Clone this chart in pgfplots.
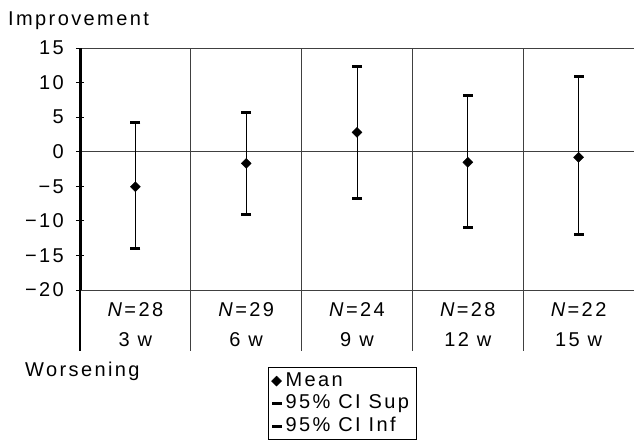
\documentclass[border=0pt]{standalone}
\usepackage{fontspec}
\setmainfont[LetterSpace=12]{Liberation Sans}
\usepackage{pgfplots}
\usepackage{pgfplotstable}
\pgfplotsset{compat=1.18}
\pgfplotstableread{
x mean up lo
0 -5.06 4.19 -13.97
1 -1.68 5.74 -9.06
2 2.80 12.35 -6.80
3 -1.53 8.20 -10.99
4 -0.81 10.95 -11.95
}\data
\begin{document}
\fontsize{20}{24}\selectfont
\begin{tikzpicture}
\useasboundingbox (0pt,0pt) rectangle (634pt,-439pt);
\node[anchor=base west, inner sep=0pt] at (8pt,-25pt) {Improvement};
\node[anchor=base west, inner sep=0pt] at (25pt,-376pt) {Worsening};
\begin{axis}[
  scale only axis, width=554pt, height=242pt,
  at={(80pt,-290pt)}, anchor=south west,
  xmin=-0.5, xmax=4.5, ymin=-20, ymax=15,
  clip=false,
  axis line style={draw=none},
  xtick=\empty,
  ytick={-20,-15,-10,-5,0,5,10,15},
  yticklabels={−20,−15,−10,−5,0,5,10,15},
  ytick pos=left,
  tick align=center,
  major tick length=8pt,
  ytick style={black, line width=1pt},
  yticklabel style={anchor=east, inner sep=0pt, xshift=-12pt},
  /pgf/number format/assume math mode=true,
  legend style={at={(axis description cs:0.3394,-0.3194)}, anchor=north west,
    draw=black, line width=1pt, inner xsep=3pt, inner ysep=4pt, row sep=4pt,
    nodes={inner ysep=0pt, inner xsep=4pt, text height=14.5pt, text depth=4pt}},
  legend cell align=left,
  legend image code/.code={\draw[mark repeat=2,mark phase=2,#1] plot coordinates {(0pt,0pt) (6pt,0pt) (12pt,0pt)};},
]
% grid / frame lines
\draw[black!75, line width=1pt] (axis cs:-0.5,15) -- (axis cs:4.5,15);
\draw[black!75, line width=1pt] (axis cs:-0.5,0) -- (axis cs:4.5,0);
\draw[black!75, line width=1pt] (axis cs:-0.5,-20) -- (axis cs:4.5,-20);
\draw[black!75, line width=1pt] (axis cs:0.5,15) -- (axis cs:0.5,-20) -- ++(0pt,-61pt);
\draw[black!75, line width=1pt] (axis cs:1.5,15) -- (axis cs:1.5,-20) -- ++(0pt,-61pt);
\draw[black!75, line width=1pt] (axis cs:2.5,15) -- (axis cs:2.5,-20) -- ++(0pt,-61pt);
\draw[black!75, line width=1pt] (axis cs:3.5,15) -- (axis cs:3.5,-20) -- ++(0pt,-61pt);
\draw[black, line width=1.5pt] (axis cs:-0.5,-20) -- ++(0pt,-61pt);
\draw[black, line width=3pt] (axis cs:-0.5,15) -- (axis cs:-0.5,-20);
% table text
\node[yshift=-19.5pt] at (axis cs:0,-20) {\textit{N}=28};
\node[yshift=-19.5pt] at (axis cs:1,-20) {\textit{N}=29};
\node[yshift=-19.5pt] at (axis cs:2,-20) {\textit{N}=24};
\node[yshift=-19.5pt] at (axis cs:3,-20) {\textit{N}=28};
\node[yshift=-19.5pt] at (axis cs:4,-20) {\textit{N}=22};
\node[yshift=-49.5pt] at (axis cs:0,-20) {3 w};
\node[yshift=-49.5pt] at (axis cs:1,-20) {6 w};
\node[yshift=-49.5pt] at (axis cs:2,-20) {9 w};
\node[yshift=-49.5pt] at (axis cs:3,-20) {12 w};
\node[yshift=-49.5pt] at (axis cs:4,-20) {15 w};
% vertical CI lines
\addplot[forget plot, draw=none, mark=none,
  error bars/.cd, y dir=both, y explicit, error mark=none,
  error bar style={draw=black, line width=1pt}]
  table[x=x, y=mean, y error plus expr=\thisrow{up}-\thisrow{mean}, y error minus expr=\thisrow{mean}-\thisrow{lo}] {\data};
\addplot[only marks, mark=diamond*, mark size=5pt,
  mark options={xscale=1.333, fill=black, draw=black, line width=0.4pt}]
  table[x=x, y=mean] {\data};
\addlegendentry{Mean}
\addplot[only marks, mark=-, mark size=5pt, mark options={draw=black, line width=3pt}]
  table[x=x, y=up] {\data};
\addlegendentry{95\% CI Sup}
\addplot[only marks, mark=-, mark size=5pt, mark options={draw=black, line width=3pt}]
  table[x=x, y=lo] {\data};
\addlegendentry{95\% CI Inf}
\end{axis}
\end{tikzpicture}
\end{document}
